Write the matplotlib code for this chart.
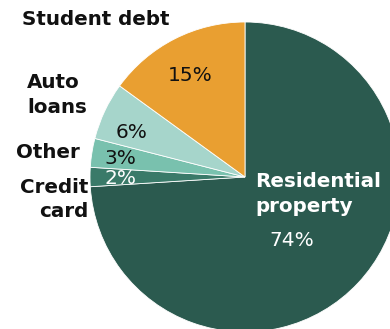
import matplotlib.pyplot as plt

# Debt composition
categorias = ["Residential\nproperty", "Credit\ncard", "Other", "Auto\nloans", "Student debt"]
valores = [74, 2, 3, 6, 15]
cores = ["#2b5a4f", "#3a7a69", "#79c1ae", "#a6d5cb", "#e99f31"]
cores_pct = ["white", "white", "#111111", "#111111", "#111111"]

# label positions in axis units (pie radius = 1)
pos_pct = [(0.303, -0.41), (-0.806, -0.01), (-0.806, 0.12), (-0.735, 0.29), (-0.355, 0.655)]
pos_nome = [(0.065, -0.11), (-1.013, -0.145), (-1.065, 0.16), (-1.406, 0.529), (-1.439, 1.013)]
alinh_nome = ["left", "right", "right", "left", "left"]

fig = plt.figure(figsize=(3.9, 3.29), dpi=100)
ax = fig.add_axes([90 / 390, -3 / 329, 310 / 390, 310 / 329])
ax.pie(valores, colors=cores, startangle=90, counterclock=False, radius=1,
       wedgeprops=dict(linewidth=0.6, edgecolor="white"))
ax.set_xlim(-1, 1)
ax.set_ylim(-1, 1)
ax.set_aspect("equal")
ax.axis("off")

for i, nome in enumerate(categorias):
    cor_nome = "white" if i == 0 else "#111111"
    x, y = pos_nome[i]
    ax.text(x, y, nome, ha=alinh_nome[i], va="center", fontsize=14.3,
            fontweight="bold", color=cor_nome, linespacing=1.38,
            multialignment=alinh_nome[i], clip_on=False)
    px, py = pos_pct[i]
    ax.text(px, py, f"{valores[i]}%", ha="center", va="center", fontsize=14.5,
            color=cores_pct[i], clip_on=False)

fig.savefig("out.png", dpi=100)
